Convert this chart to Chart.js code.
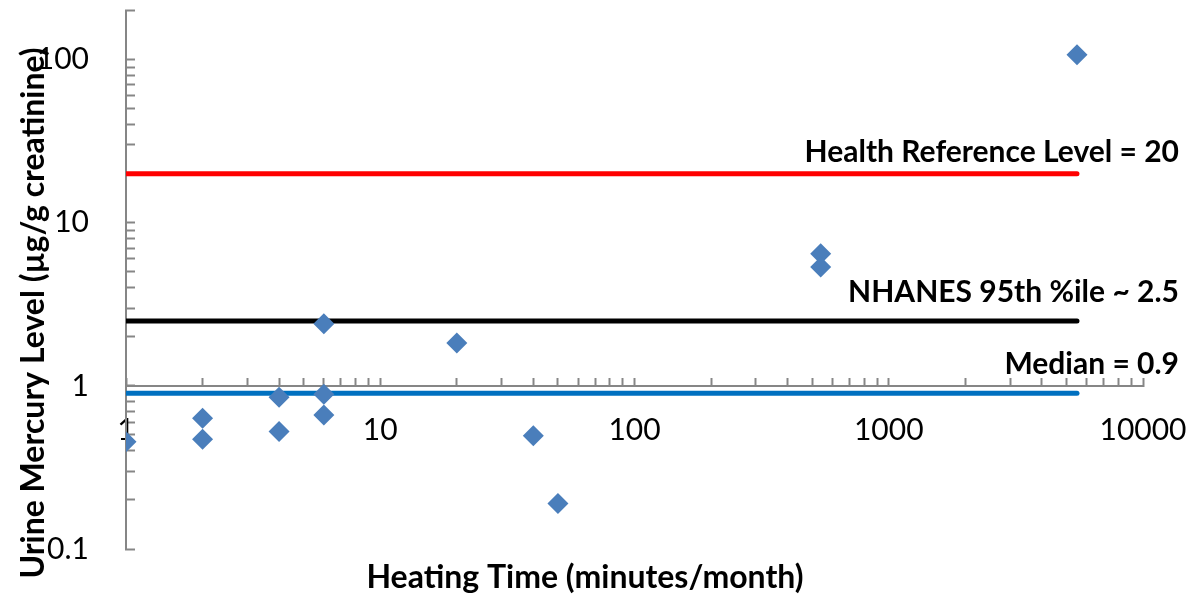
<!DOCTYPE html>
<html>
<head>
<meta charset="utf-8">
<script src="https://cdn.jsdelivr.net/npm/chart.js@4/dist/chart.umd.min.js"></script>
<style>
  html, body { margin: 0; padding: 0; background: #fff; }
</style>
</head>
<body>
<canvas id="chartMercure" width="1197" height="599"></canvas>
<script>
const tempsChauffage = [1, 2, 2, 4, 4, 6, 6, 6, 20, 40, 50, 540, 540, 5500];
const mercureUrine = [0.455, 0.634, 0.471, 0.853, 0.525, 2.40, 0.889, 0.664, 1.83, 0.494, 0.19, 6.45, 5.35, 107];

// niveaux de référence
const refLabels = ["Health Reference Level = 20", "NHANES 95th %ile ~ 2.5", "Median = 0.9"];
const refValeurs = [20, 2.5, 0.9];
const refCouleurs = ["#ff0000", "#000000", "#0070c0"];
const refEtendue = [1, 5500];

// axes
const xMajeurs = [1, 10, 100, 1000, 10000];
const yMajeurs = [0.1, 1, 10, 100];
const yMax = 200;
const titreX = "Heating Time (minutes/month)";
const titreY = "Urine Mercury Level (µg/g creatinine)";

const gris = "#868686";
const police = "Lato";

function graduationsLog(majeurs, max) {
  const out = [];
  majeurs.forEach(m => {
    for (let k = 1; k <= 9; k++) {
      const v = +(m * k).toPrecision(6);
      if (v <= max) out.push(v);
    }
  });
  if (!out.includes(max)) out.push(max);
  return out;
}

const textes = {
  id: "textes",
  afterDraw(chart) {
    const ctx = chart.ctx;
    const y = chart.scales.y;
    const droite = chart.chartArea.right + 36;
    ctx.save();
    ctx.fillStyle = "#000";
    ctx.textAlign = "right";
    ctx.textBaseline = "middle";
    ctx.font = "bold 30px " + police;
    refLabels.forEach((txt, i) => {
      const decalage = i === 0 ? 21 : 29;
      ctx.fillText(txt, droite, y.getPixelForValue(refValeurs[i]) - decalage);
    });
    ctx.font = "bold 32px " + police;
    ctx.textAlign = "center";
    ctx.fillText(titreX, 585, 578);
    ctx.translate(34, 313);
    ctx.rotate(-Math.PI / 2);
    ctx.fillText(titreY, 0, 0);
    ctx.restore();
  }
};

const points = tempsChauffage.map((t, i) => ({ x: t, y: mercureUrine[i] }));

const datasets = [{
  type: "scatter",
  data: points,
  pointStyle: "rectRot",
  pointRadius: 10.5,
  pointHoverRadius: 10.5,
  backgroundColor: "#4a7ebb",
  borderColor: "#4a7ebb",
  borderWidth: 0
}];

refValeurs.forEach((v, i) => {
  datasets.push({
    type: "line",
    data: refEtendue.map(x => ({ x: x, y: v })),
    borderColor: refCouleurs[i],
    borderWidth: 5,
    borderCapStyle: "round",
    pointRadius: 0,
    fill: false
  });
});

new Chart(document.getElementById("chartMercure"), {
  data: { datasets: datasets },
  options: {
    responsive: false,
    animation: false,
    layout: { padding: { left: 0, right: 54, top: 10, bottom: 50 } },
    plugins: { legend: { display: false }, tooltip: { enabled: false } },
    scales: {
      x: {
        type: "logarithmic",
        min: 1,
        max: 10000,
        position: { y: 1 },
        z: 1,
        grid: { drawOnChartArea: false, tickLength: -9, tickColor: gris, tickWidth: 2 },
        border: { color: gris, width: 2 },
        afterBuildTicks: s => { s.ticks = graduationsLog(xMajeurs, 10000).map(v => ({ value: v })); },
        afterFit: s => { s.paddingLeft = 0; s.paddingRight = 0; s.paddingTop = 0; s.paddingBottom = 0; },
        ticks: {
          autoSkip: false,
          maxRotation: 0,
          padding: 35,
          color: "#000",
          font: { family: police, size: 30 },
          callback: v => xMajeurs.includes(v) ? String(v) : ""
        }
      },
      y: {
        type: "logarithmic",
        min: 0.1,
        max: yMax,
        position: "left",
        grid: { drawOnChartArea: false, tickLength: -9, tickColor: gris, tickWidth: 2 },
        border: { color: gris, width: 2 },
        afterBuildTicks: s => { s.ticks = graduationsLog(yMajeurs, yMax).map(v => ({ value: v })); },
        afterFit: s => { s.width = 126; s.paddingTop = 0; s.paddingBottom = 0; s.paddingLeft = 0; s.paddingRight = 0; },
        ticks: {
          autoSkip: false,
          padding: 46,
          color: "#000",
          font: { family: police, size: 30 },
          callback: v => yMajeurs.includes(v) ? String(v) : ""
        }
      }
    }
  },
  plugins: [textes]
});
</script>
</body>
</html>
